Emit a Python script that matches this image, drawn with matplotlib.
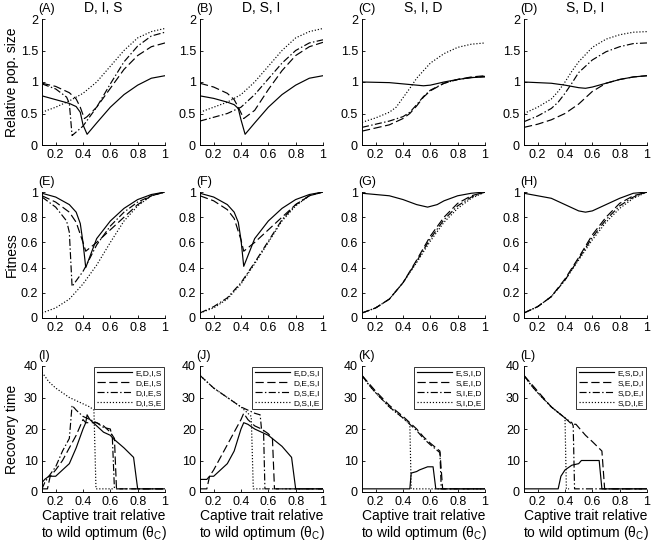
import matplotlib
matplotlib.use("Agg")
import matplotlib.pyplot as plt

plt.rcParams['font.family'] = ['Liberation Sans', 'DejaVu Sans']

# ---------------- Row 1: relative population size ----------------
A_solid_x = [0.1, 0.2, 0.3, 0.35, 0.38, 0.4, 0.43, 0.5, 0.6, 0.7, 0.8, 0.9, 1.0]
A_solid_y = [0.78, 0.72, 0.66, 0.61, 0.52, 0.32, 0.17, 0.35, 0.6, 0.8, 0.95, 1.06, 1.1]
A_dash_x = [0.1, 0.2, 0.3, 0.35, 0.38, 0.41, 0.43, 0.5, 0.6, 0.7, 0.8, 0.9, 1.0]
A_dash_y = [0.98, 0.93, 0.83, 0.73, 0.6, 0.42, 0.45, 0.6, 0.9, 1.2, 1.42, 1.56, 1.62]
A_dd_x = [0.1, 0.2, 0.28, 0.3, 0.32, 0.4, 0.5, 0.6, 0.7, 0.8, 0.9, 1.0]
A_dd_y = [0.97, 0.89, 0.76, 0.66, 0.15, 0.3, 0.6, 0.97, 1.32, 1.57, 1.73, 1.79]
A_dot_x = [0.1, 0.2, 0.3, 0.4, 0.5, 0.6, 0.7, 0.8, 0.9, 1.0]
A_dot_y = [0.52, 0.6, 0.7, 0.82, 1.0, 1.25, 1.5, 1.7, 1.8, 1.85]

B_solid_x = [0.1, 0.2, 0.3, 0.35, 0.38, 0.4, 0.43, 0.5, 0.6, 0.7, 0.8, 0.9, 1.0]
B_solid_y = [0.78, 0.74, 0.68, 0.64, 0.58, 0.4, 0.17, 0.35, 0.6, 0.8, 0.95, 1.06, 1.1]
B_dash_x = [0.1, 0.2, 0.3, 0.35, 0.38, 0.42, 0.5, 0.6, 0.7, 0.8, 0.9, 1.0]
B_dash_y = [0.98, 0.92, 0.82, 0.72, 0.6, 0.42, 0.55, 0.88, 1.18, 1.42, 1.56, 1.63]
B_dd_x = [0.1, 0.2, 0.3, 0.4, 0.5, 0.6, 0.7, 0.8, 0.9, 1.0]
B_dd_y = [0.38, 0.44, 0.5, 0.6, 0.8, 1.05, 1.3, 1.5, 1.62, 1.67]
B_dot_x = [0.1, 0.2, 0.3, 0.4, 0.5, 0.6, 0.7, 0.8, 0.9, 1.0]
B_dot_y = [0.52, 0.6, 0.68, 0.8, 1.0, 1.25, 1.5, 1.7, 1.8, 1.85]

C_solid_x = [0.1, 0.3, 0.4, 0.5, 0.55, 0.6, 0.7, 0.8, 0.9, 1.0]
C_solid_y = [1.0, 0.99, 0.97, 0.95, 0.94, 0.95, 1.0, 1.04, 1.07, 1.08]
C_dash_x = [0.1, 0.2, 0.3, 0.4, 0.45, 0.5, 0.55, 0.6, 0.7, 0.8, 0.9, 1.0]
C_dash_y = [0.22, 0.27, 0.32, 0.42, 0.5, 0.62, 0.76, 0.86, 0.98, 1.04, 1.08, 1.1]
C_dd_x = [0.1, 0.2, 0.3, 0.4, 0.45, 0.5, 0.55, 0.6, 0.7, 0.8, 0.9, 1.0]
C_dd_y = [0.28, 0.33, 0.38, 0.45, 0.52, 0.64, 0.77, 0.87, 0.98, 1.04, 1.07, 1.09]
C_dot_x = [0.1, 0.2, 0.3, 0.35, 0.4, 0.45, 0.5, 0.6, 0.7, 0.8, 0.9, 1.0]
C_dot_y = [0.36, 0.43, 0.52, 0.6, 0.75, 0.9, 1.06, 1.3, 1.45, 1.55, 1.6, 1.62]

D_solid_x = [0.1, 0.3, 0.4, 0.5, 0.55, 0.6, 0.7, 0.8, 0.9, 1.0]
D_solid_y = [1.0, 0.98, 0.95, 0.91, 0.9, 0.92, 0.98, 1.04, 1.08, 1.1]
D_dash_x = [0.1, 0.2, 0.3, 0.4, 0.5, 0.6, 0.7, 0.8, 0.9, 1.0]
D_dash_y = [0.28, 0.33, 0.4, 0.5, 0.65, 0.85, 0.98, 1.04, 1.08, 1.1]
D_dd_x = [0.1, 0.2, 0.3, 0.35, 0.4, 0.45, 0.5, 0.6, 0.7, 0.8, 0.9, 1.0]
D_dd_y = [0.37, 0.46, 0.58, 0.68, 0.82, 0.98, 1.15, 1.35, 1.48, 1.56, 1.61, 1.62]
D_dot_x = [0.1, 0.2, 0.3, 0.35, 0.4, 0.45, 0.5, 0.6, 0.7, 0.8, 0.9, 1.0]
D_dot_y = [0.5, 0.6, 0.73, 0.85, 1.0, 1.17, 1.32, 1.55, 1.68, 1.75, 1.79, 1.8]

# ---------------- Row 2: fitness ----------------
E_solid_x = [0.1, 0.2, 0.3, 0.35, 0.38, 0.4, 0.42, 0.5, 0.6, 0.7, 0.8, 0.9, 1.0]
E_solid_y = [0.99, 0.96, 0.9, 0.84, 0.75, 0.6, 0.4, 0.63, 0.77, 0.87, 0.94, 0.98, 1.0]
E_dash_x = [0.1, 0.2, 0.3, 0.35, 0.4, 0.42, 0.5, 0.6, 0.7, 0.8, 0.9, 1.0]
E_dash_y = [0.97, 0.92, 0.84, 0.76, 0.6, 0.53, 0.6, 0.7, 0.8, 0.9, 0.97, 1.0]
E_dd_x = [0.1, 0.2, 0.28, 0.3, 0.32, 0.4, 0.42, 0.5, 0.6, 0.7, 0.8, 0.9, 1.0]
E_dd_y = [0.96, 0.88, 0.77, 0.68, 0.25, 0.37, 0.41, 0.58, 0.73, 0.84, 0.92, 0.97, 1.0]
E_dot_x = [0.1, 0.2, 0.3, 0.4, 0.5, 0.6, 0.7, 0.8, 0.9, 1.0]
E_dot_y = [0.04, 0.08, 0.15, 0.27, 0.42, 0.6, 0.77, 0.89, 0.97, 1.0]

F_solid_x = [0.1, 0.2, 0.3, 0.35, 0.38, 0.4, 0.42, 0.5, 0.6, 0.7, 0.8, 0.9, 1.0]
F_solid_y = [0.99, 0.96, 0.9, 0.84, 0.76, 0.62, 0.41, 0.63, 0.77, 0.87, 0.94, 0.98, 1.0]
F_dash_x = [0.1, 0.2, 0.3, 0.35, 0.4, 0.42, 0.5, 0.6, 0.7, 0.8, 0.9, 1.0]
F_dash_y = [0.97, 0.93, 0.86, 0.79, 0.62, 0.53, 0.6, 0.7, 0.8, 0.9, 0.97, 1.0]
F_dd_x = [0.1, 0.2, 0.3, 0.4, 0.5, 0.6, 0.7, 0.8, 0.9, 1.0]
F_dd_y = [0.04, 0.09, 0.16, 0.28, 0.44, 0.61, 0.78, 0.9, 0.97, 1.0]
F_dot_x = [0.1, 0.2, 0.3, 0.4, 0.5, 0.6, 0.7, 0.8, 0.9, 1.0]
F_dot_y = [0.04, 0.08, 0.15, 0.27, 0.43, 0.6, 0.77, 0.89, 0.97, 1.0]

G_solid_x = [0.1, 0.3, 0.4, 0.5, 0.58, 0.65, 0.7, 0.8, 0.9, 1.0]
G_solid_y = [0.99, 0.97, 0.94, 0.9, 0.88, 0.9, 0.93, 0.97, 0.99, 1.0]
G_dash_x = [0.1, 0.2, 0.3, 0.4, 0.5, 0.6, 0.7, 0.8, 0.9, 1.0]
G_dash_y = [0.04, 0.08, 0.15, 0.28, 0.46, 0.65, 0.8, 0.91, 0.97, 1.0]
G_dd_x = [0.1, 0.2, 0.3, 0.4, 0.5, 0.6, 0.7, 0.8, 0.9, 1.0]
G_dd_y = [0.04, 0.08, 0.15, 0.28, 0.45, 0.63, 0.78, 0.89, 0.96, 1.0]
G_dot_x = [0.1, 0.2, 0.3, 0.4, 0.5, 0.6, 0.7, 0.8, 0.9, 1.0]
G_dot_y = [0.04, 0.08, 0.15, 0.28, 0.44, 0.61, 0.76, 0.87, 0.95, 1.0]

H_solid_x = [0.1, 0.3, 0.4, 0.5, 0.55, 0.6, 0.7, 0.8, 0.9, 1.0]
H_solid_y = [0.99, 0.95, 0.9, 0.85, 0.84, 0.85, 0.9, 0.95, 0.99, 1.0]
H_dash_x = [0.1, 0.2, 0.3, 0.4, 0.5, 0.6, 0.7, 0.8, 0.9, 1.0]
H_dash_y = [0.04, 0.09, 0.17, 0.31, 0.48, 0.66, 0.8, 0.91, 0.97, 1.0]
H_dd_x = [0.1, 0.2, 0.3, 0.4, 0.5, 0.6, 0.7, 0.8, 0.9, 1.0]
H_dd_y = [0.04, 0.09, 0.17, 0.3, 0.47, 0.64, 0.78, 0.89, 0.96, 1.0]
H_dot_x = [0.1, 0.2, 0.3, 0.4, 0.5, 0.6, 0.7, 0.8, 0.9, 1.0]
H_dot_y = [0.04, 0.09, 0.17, 0.3, 0.46, 0.62, 0.76, 0.87, 0.95, 1.0]

# ---------------- Row 3: recovery time ----------------
I_solid_x = [0.1, 0.12, 0.15, 0.2, 0.25, 0.3, 0.35, 0.4, 0.42, 0.43, 0.45, 0.5, 0.55, 0.6, 0.62, 0.7, 0.77, 0.8, 1.0]
I_solid_y = [3, 4, 5, 5, 7, 9, 14, 20, 22, 24.5, 23, 21, 19, 18, 17, 14, 11, 1, 1]
I_dash_x = [0.1, 0.14, 0.16, 0.2, 0.25, 0.3, 0.35, 0.4, 0.42, 0.5, 0.55, 0.6, 0.63, 0.645, 1.0]
I_dash_y = [1, 1, 5, 7, 10, 14, 18, 23, 22, 22, 21, 19, 17, 1, 1]
I_dd_x = [0.1, 0.12, 0.15, 0.2, 0.25, 0.3, 0.32, 0.35, 0.4, 0.45, 0.5, 0.55, 0.6, 0.615, 0.63, 1.0]
I_dd_y = [1, 3, 5, 8, 13, 17, 27.5, 26, 24, 23, 22, 20.5, 20, 17, 1, 1]
I_dot_x = [0.1, 0.15, 0.2, 0.25, 0.3, 0.35, 0.4, 0.45, 0.48, 0.495, 0.62]
I_dot_y = [38, 35, 33, 31.5, 30, 29, 28, 27, 26, 1, 1]

J_solid_x = [0.1, 0.15, 0.17, 0.2, 0.25, 0.3, 0.35, 0.4, 0.42, 0.45, 0.5, 0.55, 0.6, 0.7, 0.77, 0.8, 1.0]
J_solid_y = [4, 4, 5, 5, 7, 9, 13, 20, 22, 21.5, 20, 19, 18, 14.5, 11, 1, 1]
J_dash_x = [0.1, 0.15, 0.17, 0.2, 0.25, 0.3, 0.35, 0.4, 0.42, 0.45, 0.5, 0.55, 0.6, 0.63, 0.645, 1.0]
J_dash_y = [1, 1, 5, 7, 11, 15, 19, 23, 25, 23, 21, 20, 18.5, 17, 1, 1]
J_dd_x = [0.1, 0.15, 0.2, 0.25, 0.3, 0.35, 0.4, 0.45, 0.5, 0.54, 0.55, 0.565, 0.575, 1.0]
J_dd_y = [37, 35, 33, 31.5, 30, 28.5, 27, 26, 25, 24.5, 20, 19.5, 1, 1]
J_dot_x = [0.1, 0.15, 0.2, 0.25, 0.3, 0.35, 0.4, 0.45, 0.475, 0.49, 0.57]
J_dot_y = [37, 35, 33, 31.5, 30, 28.5, 27, 25, 24, 1, 1]

K_solid_x = [0.1, 0.45, 0.46, 0.5, 0.52, 0.55, 0.58, 0.62, 0.64, 1.0]
K_solid_y = [1, 1, 6, 6.5, 7, 7.5, 8, 8, 1, 1]
K_dash_x = [0.1, 0.15, 0.2, 0.3, 0.4, 0.5, 0.55, 0.6, 0.67, 0.69, 1.0]
K_dash_y = [37, 34.5, 32, 27.5, 24, 20, 17.5, 15.5, 13, 1, 1]
K_dd_x = [0.1, 0.15, 0.2, 0.3, 0.4, 0.5, 0.55, 0.6, 0.67, 0.68, 1.0]
K_dd_y = [37, 34, 31.5, 27, 23.5, 19.5, 17, 15, 12.5, 1, 1]
K_dot_x = [0.1, 0.15, 0.2, 0.3, 0.4, 0.45, 0.46, 0.68]
K_dot_y = [37, 34, 31.5, 27, 23.5, 21.5, 1, 1]

L_solid_x = [0.1, 0.35, 0.37, 0.4, 0.45, 0.5, 0.52, 0.65, 0.67, 1.0]
L_solid_y = [1, 1, 5, 7, 8.5, 9, 10, 10, 1, 1]
L_dash_x = [0.1, 0.15, 0.2, 0.3, 0.4, 0.45, 0.48, 0.5, 0.55, 0.6, 0.67, 0.69, 1.0]
L_dash_y = [37, 34.5, 32, 27, 23.5, 21.5, 21.5, 20.5, 18, 16, 13, 1, 1]
L_dd_x = [0.1, 0.15, 0.2, 0.3, 0.4, 0.45, 0.46, 0.47, 1.0]
L_dd_y = [37, 34, 31.5, 27, 23.5, 22, 21, 1, 1]
L_dot_x = [0.1, 0.15, 0.2, 0.3, 0.4, 0.41, 0.43]
L_dot_y = [37, 34, 31.5, 27, 23.5, 1, 1]

letters = ["A", "B", "C", "D", "E", "F", "G", "H", "I", "J", "K", "L"]
col_titles = ["D, I, S", "D, S, I", "S, I, D", "S, D, I"]
legend_labels = [
    ["E,D,I,S", "D,E,I,S", "D,I,E,S", "D,I,S,E"],
    ["E,D,S,I", "D,E,S,I", "D,S,E,I", "D,S,I,E"],
    ["E,S,I,D", "S,E,I,D", "S,I,E,D", "S,I,D,E"],
    ["E,S,D,I", "S,E,D,I", "S,D,E,I", "S,D,I,E"],
]
row_ylabels = ["Relative pop. size", "Fitness", "Recovery time"]
row_ylims = [(0, 2), (0, 1), (0, 40)]
row_yticks = [[0, 0.5, 1, 1.5, 2], [0, 0.2, 0.4, 0.6, 0.8, 1], [0, 10, 20, 30, 40]]
row_yticklabels = [["0", "0.5", "1", "1.5", "2"],
                   ["0", "0.2", "0.4", "0.6", "0.8", "1"],
                   ["0", "10", "20", "30", "40"]]
xticks = [0.2, 0.4, 0.6, 0.8, 1.0]
xticklabels = ["0.2", "0.4", "0.6", "0.8", "1"]
xlabel_text = "Captive trait relative\nto wild optimum ($\\mathregular{\\theta_C}$)"

data = {}
for L in letters:
    data[L] = [(globals()[f"{L}_solid_x"], globals()[f"{L}_solid_y"]),
               (globals()[f"{L}_dash_x"], globals()[f"{L}_dash_y"]),
               (globals()[f"{L}_dd_x"], globals()[f"{L}_dd_y"]),
               (globals()[f"{L}_dot_x"], globals()[f"{L}_dot_y"])]

styles = ['-', (0, (7, 3)), (0, (6, 2, 1.2, 2)), (0, (1, 1.6))]

W, H = 651, 544
fig = plt.figure(figsize=(W / 100, H / 100), dpi=100)
col_left = [42, 200, 362, 524]
row_top = [19, 192, 366]
aw, ah = 123, 126

for r in range(3):
    for c in range(4):
        L = letters[r * 4 + c]
        ax = fig.add_axes([col_left[c] / W, 1 - (row_top[r] + ah) / H, aw / W, ah / H])
        for (xs, ys), ls in zip(data[L], styles):
            ax.plot(xs, ys, color='black', lw=0.85, linestyle=ls)
        ax.set_xlim(0.1, 1.0)
        ax.set_ylim(*row_ylims[r])
        ax.set_xticks(xticks)
        ax.set_xticklabels(xticklabels)
        ax.set_yticks(row_yticks[r])
        ax.set_yticklabels(row_yticklabels[r])
        ax.tick_params(direction='in', length=2.5, width=0.6, labelsize=9, pad=3)
        for s in ['top', 'right']:
            ax.spines[s].set_visible(False)
        for s in ['left', 'bottom']:
            ax.spines[s].set_linewidth(0.7)
        ax.text(-0.03, 1.03, f"({L})", transform=ax.transAxes, fontsize=9,
                ha='left', va='bottom')
        if r == 0:
            ax.text(0.5, 1.03, col_titles[c], transform=ax.transAxes, fontsize=10,
                    ha='center', va='bottom')
        if c == 0:
            fig.text(12 / W, 1 - (row_top[r] + ah / 2) / H, row_ylabels[r],
                     rotation=90, ha='center', va='center', fontsize=10)
        if r == 2:
            fig.text((col_left[c] + aw / 2) / W, 1 - 509 / H, xlabel_text,
                     ha='center', va='top', fontsize=10, linespacing=1.1)
            leg = ax.legend(legend_labels[c], loc='upper right', fontsize=6,
                            handlelength=4.2, frameon=True, fancybox=False,
                            edgecolor='black', borderpad=0.3, labelspacing=0.25,
                            handletextpad=0.4, borderaxespad=0.1,
                            bbox_to_anchor=(1.0, 1.0))
            leg.get_frame().set_linewidth(0.7)

fig.savefig("out.png", dpi=100)
